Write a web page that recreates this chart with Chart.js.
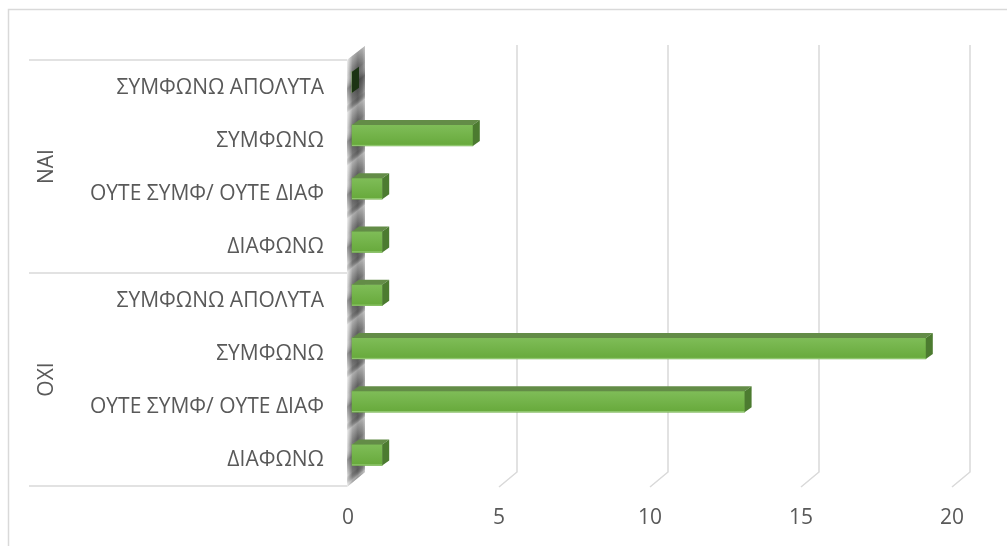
<!DOCTYPE html>
<html>
<head>
<meta charset="utf-8">
<script src="https://cdn.jsdelivr.net/npm/chart.js@4/dist/chart.umd.min.js"></script>
<style>
  body { margin: 0; background: #fff; }
  canvas { display: block; }
</style>
</head>
<body>
<canvas id="surveyChart" width="1007" height="546"></canvas>
<script>
// data
const groups = ['ΝΑΙ', 'ΟΧΙ'];
const answers = ['ΣΥΜΦΩΝΩ ΑΠΟΛΥΤΑ', 'ΣΥΜΦΩΝΩ', 'ΟΥΤΕ ΣΥΜΦ/ ΟΥΤΕ ΔΙΑΦ', 'ΔΙΑΦΩΝΩ'];
const naiValues = [0, 4, 1, 1];
const oxiValues = [1, 19, 13, 1];
const xTicks = [0, 5, 10, 15, 20];

const labels = [...answers, ...answers];
const values = [...naiValues, ...oxiValues];

const FONT = '"Open Sans", sans-serif';
const TEXT = '#595959';
const GRID = '#d9d9d9';
const DEPTH_X = 18, DEPTH_Y = 14;   // back wall offset
const BAR_DX = 7, BAR_DY = 5;       // bar depth

const backdrop = {
    id: 'backdrop',
    beforeDatasetsDraw(chart) {
        const ctx = chart.ctx;
        const xs = chart.scales.x, ys = chart.scales.y;
        const area = chart.chartArea;
        ctx.save();

        // outer frame
        ctx.strokeStyle = GRID;
        ctx.lineWidth = 1.5;
        ctx.beginPath();
        ctx.moveTo(8.5, 546);
        ctx.lineTo(8.5, 9.5);
        ctx.lineTo(1007, 9.5);
        ctx.stroke();

        // gridlines (back wall + floor diagonal)
        xTicks.forEach(v => {
            if (v === 0) return;
            const fx = xs.getPixelForValue(v);
            const bx = fx + DEPTH_X;
            ctx.beginPath();
            ctx.moveTo(bx, area.top - 15);
            ctx.lineTo(bx, area.bottom - DEPTH_Y);
            ctx.lineTo(fx, area.bottom + 1);
            ctx.stroke();
        });

        // category separators
        const x0 = xs.getPixelForValue(0);
        const seps = [area.top, (ys.getPixelForValue(3) + ys.getPixelForValue(4)) / 2, area.bottom];
        seps.forEach(y => {
            ctx.beginPath();
            ctx.moveTo(29, y);
            ctx.lineTo(x0 - 1, y);
            ctx.stroke();
        });

        // left wall (3D floor of the bar chart)
        const wl = x0 - 1, wr = x0 + DEPTH_X - 1;
        ctx.beginPath();
        ctx.moveTo(wl, area.top);
        ctx.lineTo(wr, area.top - DEPTH_Y);
        ctx.lineTo(wr, area.bottom - DEPTH_Y);
        ctx.lineTo(wl, area.bottom + 1);
        ctx.closePath();
        const g = ctx.createLinearGradient(wl, 0, wr, 0);
        g.addColorStop(0, '#e6e6e6');
        g.addColorStop(0.1, '#bdbdbd');
        g.addColorStop(0.3, '#7a7a7a');
        g.addColorStop(0.6, '#5e5e5e');
        g.addColorStop(0.85, '#7a7a7a');
        g.addColorStop(1, '#a8a8a8');
        ctx.fillStyle = g;
        ctx.fill();
        // diagonal chrome streaks
        const k = 25;
        const s = ctx.createLinearGradient(wl, area.top, wl + 14 * k, area.top + 18 * k);
        const per = 53 * 18 / (22.8 * 22.8 * k);
        for (let t = 0; t + per <= 1; t += per) {
            s.addColorStop(t, 'rgba(255,255,255,0.4)');
            s.addColorStop(t + per * 0.3, 'rgba(255,255,255,0)');
            s.addColorStop(t + per * 0.55, 'rgba(0,0,0,0.3)');
            s.addColorStop(t + per * 0.85, 'rgba(0,0,0,0)');
        }
        ctx.fillStyle = s;
        ctx.fill();

        // category labels
        ctx.fillStyle = TEXT;
        ctx.font = '21px ' + FONT;
        ctx.textAlign = 'right';
        ctx.textBaseline = 'middle';
        labels.forEach((l, i) => ctx.fillText(l, 324, ys.getPixelForValue(i) + 1));

        // group labels
        groups.forEach((gname, gi) => {
            const yc = (ys.getPixelForValue(gi * 4) + ys.getPixelForValue(gi * 4 + 3)) / 2;
            ctx.save();
            ctx.translate(47, yc);
            ctx.rotate(-Math.PI / 2);
            ctx.textAlign = 'center';
            ctx.fillText(gname, 0, 0);
            ctx.restore();
        });

        // x tick labels
        ctx.textAlign = 'center';
        xTicks.forEach(v => ctx.fillText(String(v), xs.getPixelForValue(v), 518));

        ctx.restore();

        // bars sit a little behind the front plane
        ctx.save();
        ctx.translate(4, -4.5);
    },
    afterDatasetsDraw(chart) {
        const ctx = chart.ctx;
        const meta = chart.getDatasetMeta(0);
        meta.data.forEach(bar => {
            const x1 = bar.base, x2 = bar.x;
            const top = bar.y - bar.height / 2, bot = bar.y + bar.height / 2;
            if (x2 > x1) {
                // front face shading
                const fg = ctx.createLinearGradient(0, top, 0, bot);
                fg.addColorStop(0, '#7fbd58');
                fg.addColorStop(1, '#67a93b');
                ctx.fillStyle = fg;
                ctx.fillRect(x1, top, x2 - x1, bot - top);
                ctx.strokeStyle = 'rgba(160,210,130,0.8)';
                ctx.lineWidth = 1;
                ctx.beginPath();
                ctx.moveTo(x1, bot - 0.5);
                ctx.lineTo(x2, bot - 0.5);
                ctx.stroke();
                // top face
                ctx.fillStyle = '#638c47';
                ctx.beginPath();
                ctx.moveTo(x1, top);
                ctx.lineTo(x1 + BAR_DX, top - BAR_DY);
                ctx.lineTo(x2 + BAR_DX, top - BAR_DY);
                ctx.lineTo(x2, top);
                ctx.closePath();
                ctx.fill();
            }
            // side face
            ctx.fillStyle = x2 > x1 ? '#4c7b30' : '#1c3314';
            ctx.beginPath();
            ctx.moveTo(x2, top);
            ctx.lineTo(x2 + BAR_DX, top - BAR_DY);
            ctx.lineTo(x2 + BAR_DX, bot - BAR_DY);
            ctx.lineTo(x2, bot);
            ctx.closePath();
            ctx.fill();
        });
        ctx.restore();
    }
};

new Chart(document.getElementById('surveyChart'), {
    type: 'bar',
    data: {
        labels: labels,
        datasets: [{
            data: values,
            backgroundColor: '#70ad47',
            borderWidth: 0,
            barThickness: 21,
            clip: false
        }]
    },
    options: {
        indexAxis: 'y',
        responsive: false,
        animation: false,
        devicePixelRatio: 1,
        layout: { padding: { left: 348, right: 55, top: 60, bottom: 60 } },
        scales: {
            x: { display: false, min: 0, max: 20 },
            y: { display: false }
        },
        plugins: {
            legend: { display: false },
            tooltip: { enabled: false }
        }
    },
    plugins: [backdrop]
});
</script>
</body>
</html>
